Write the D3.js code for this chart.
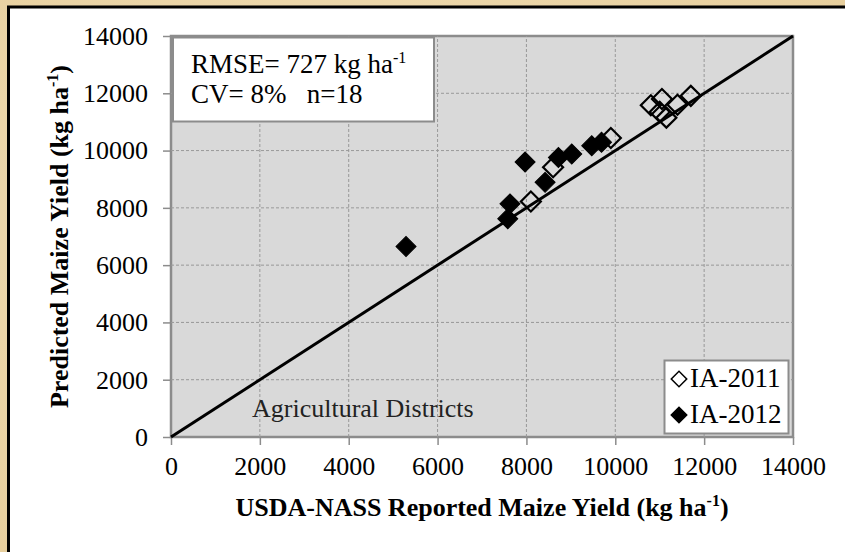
<!DOCTYPE html>
<html>
<head>
<meta charset="utf-8">
<script src="https://cdn.jsdelivr.net/npm/d3@7"></script>
<style>
  body { margin: 0; background: #ead4a6; }
  svg { display: block; font-family: "Liberation Serif", "Times New Roman", serif; }
</style>
</head>
<body>
<svg id="chart" width="845" height="552"></svg>
<script>
// DATA
const ticks = [0, 2000, 4000, 6000, 8000, 10000, 12000, 14000];
const nass2011 = [8100, 8600, 9900, 10800, 11000, 11050, 11150, 11400, 11700];
const pred2011 = [8220, 9420, 10440, 11580, 11350, 11800, 11150, 11600, 11910];
const nass2012 = [5290, 7580, 7630, 7970, 8420, 8720, 9020, 9470, 9690];
const pred2012 = [6650, 7620, 8140, 9600, 8890, 9760, 9880, 10170, 10290];
const series = ["IA-2011", "IA-2012"];
const statsLines = ["RMSE= 727 kg ha", "CV= 8%   n=18"];

const margin = { left: 171, right: 52, top: 36, bottom: 115 };
const width = 845, height = 552;

const svg = d3.select("svg#chart");

// mottled background
const defs = svg.append("defs");
const grad = defs.append("radialGradient").attr("id", "bg").attr("cx", "40%").attr("cy", "40%").attr("r", "80%");
grad.append("stop").attr("offset", "0%").attr("stop-color", "#f1dfb8");
grad.append("stop").attr("offset", "100%").attr("stop-color", "#e6cd9a");
svg.append("rect").attr("width", width).attr("height", height).attr("fill", "url(#bg)");

// chart frame
svg.append("rect")
    .attr("x", 8.5).attr("y", 7)
    .attr("width", width + 10).attr("height", height + 10)
    .attr("fill", "white").attr("stroke", "black").attr("stroke-width", 3);

// SCALES
const xScale = d3.scaleLinear().domain([0, 14000]).range([margin.left, width - margin.right]);
const yScale = d3.scaleLinear().domain([0, 14000]).range([height - margin.bottom, margin.top]);

// plot area
svg.append("rect")
    .attr("x", xScale(0)).attr("y", yScale(14000))
    .attr("width", xScale(14000) - xScale(0)).attr("height", yScale(0) - yScale(14000))
    .attr("fill", "#d9d9d9").attr("stroke", "#8c8c8c").attr("stroke-width", 2.5);

// GRID
const grid = svg.append("g").attr("stroke", "#999").attr("stroke-dasharray", "3,2").attr("stroke-width", 1);
grid.selectAll("line.v").data(ticks.slice(1, -1)).join("line").attr("class", "v")
    .attr("x1", d => xScale(d)).attr("x2", d => xScale(d))
    .attr("y1", yScale(0)).attr("y2", yScale(14000));
grid.selectAll("line.h").data(ticks.slice(1, -1)).join("line").attr("class", "h")
    .attr("y1", d => yScale(d)).attr("y2", d => yScale(d))
    .attr("x1", xScale(0)).attr("x2", xScale(14000));

// AXIS
const xAxis = g => g.attr("transform", `translate(0, ${yScale(0)})`)
    .call(d3.axisBottom(xScale).tickValues(ticks).tickSize(8).tickPadding(12).tickFormat(d3.format("d")));
const yAxis = g => g.attr("transform", `translate(${xScale(0)},0)`)
    .call(d3.axisLeft(yScale).tickValues(ticks).tickSize(8).tickPadding(15).tickFormat(d3.format("d")));

[xAxis, yAxis].forEach(ax => {
    const g = svg.append("g").call(ax)
        .attr("font-family", "Liberation Serif").attr("font-size", 26);
    g.select(".domain").remove();
    g.selectAll(".tick line").attr("stroke", "#8c8c8c").attr("stroke-width", 1.5);
    g.selectAll(".tick text").style("font-size", "26px").attr("fill", "black");
});

// 1:1 line
svg.append("line")
    .attr("x1", xScale(0)).attr("y1", yScale(0))
    .attr("x2", xScale(14000)).attr("y2", yScale(14000))
    .attr("stroke", "black").attr("stroke-width", 3);

// POINTS
const diamond = d3.symbol().type(d3.symbolSquare).size(200);
const pts2011 = nass2011.map((x, i) => ({ x, y: pred2011[i] }));
const pts2012 = nass2012.map((x, i) => ({ x, y: pred2012[i] }));

svg.append("g").selectAll("path").data(pts2011).join("path")
    .attr("d", diamond)
    .attr("transform", d => `translate(${xScale(d.x)},${yScale(d.y)}) rotate(45)`)
    .attr("fill", "none").attr("stroke", "black").attr("stroke-width", 2.2);

svg.append("g").selectAll("path").data(pts2012).join("path")
    .attr("d", diamond)
    .attr("transform", d => `translate(${xScale(d.x)},${yScale(d.y)}) rotate(45)`)
    .attr("fill", "black").attr("stroke", "black").attr("stroke-width", 1);

// stats box
svg.append("rect")
    .attr("x", 173).attr("y", 37.5).attr("width", 261).attr("height", 84)
    .attr("fill", "white").attr("stroke", "#8c8c8c").attr("stroke-width", 2);
const stats = svg.append("g").attr("font-size", 27).attr("fill", "black");
const t1 = stats.append("text").attr("x", 191).attr("y", 72.5).text(statsLines[0]);
t1.append("tspan").attr("dy", -10).attr("font-size", 16).text("-1");
stats.append("text").attr("x", 191).attr("y", 102.5).attr("xml:space", "preserve").text(statsLines[1]);

// annotation
svg.append("text").attr("x", 252).attr("y", 417).attr("font-size", 26).attr("fill", "#222")
    .text("Agricultural Districts");

// LEGEND
svg.append("rect")
    .attr("x", 664.5).attr("y", 360.5).attr("width", 124).attr("height", 73)
    .attr("fill", "white").attr("stroke", "#8c8c8c").attr("stroke-width", 2);
const legend = svg.append("g").selectAll("g").data(series).join("g")
    .attr("transform", (d, i) => `translate(679, ${379 + i * 36})`);
legend.append("path")
    .attr("d", d3.symbol().type(d3.symbolSquare).size(120))
    .attr("transform", "rotate(45)")
    .attr("fill", (d, i) => i === 0 ? "white" : "black")
    .attr("stroke", "black").attr("stroke-width", 1.5);
legend.append("text").attr("x", 11).attr("y", 8).attr("font-size", 27).text(d => d);

// TITLES
const xt = svg.append("text").attr("x", xScale(7000)).attr("y", 516)
    .attr("text-anchor", "middle").attr("font-size", 26).attr("font-weight", "bold")
    .text("USDA-NASS Reported Maize Yield (kg ha");
xt.append("tspan").attr("dy", -10).attr("font-size", 16).text("-1");
xt.append("tspan").attr("dy", 10).text(")");

const yt = svg.append("text")
    .attr("transform", `translate(68, ${(yScale(0) + yScale(14000)) / 2}) rotate(-90)`)
    .attr("text-anchor", "middle").attr("font-size", 26).attr("font-weight", "bold")
    .text("Predicted Maize Yield (kg ha");
yt.append("tspan").attr("dy", -10).attr("font-size", 16).text("-1");
yt.append("tspan").attr("dy", 10).text(")");
</script>
</body>
</html>
